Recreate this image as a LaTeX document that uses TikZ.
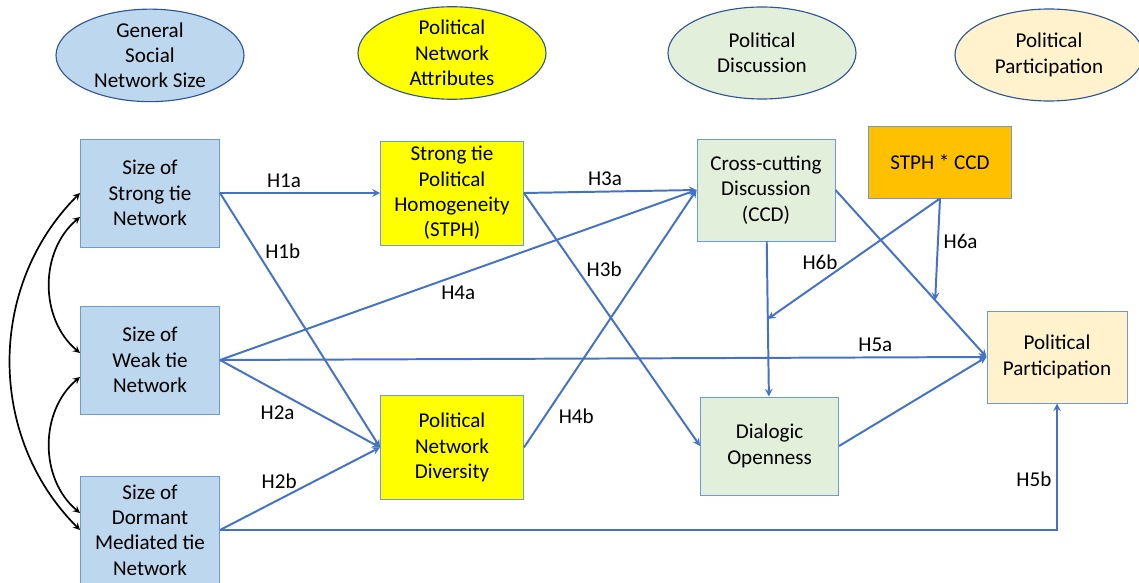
\documentclass[tikz,border=0pt]{standalone}
\usepackage{fontspec}
\setmainfont{Carlito}
\usetikzlibrary{shapes.geometric, arrows, calc}
\definecolor{cbblue}{HTML}{BDD7EE}
\definecolor{cbyellow}{HTML}{FFFF00}
\definecolor{cbgreen}{HTML}{E2EFDA}
\definecolor{cborange}{HTML}{FFC000}
\definecolor{cbcream}{HTML}{FFF2CC}
\definecolor{cbedge}{HTML}{6C9BD2}
\definecolor{cbring}{HTML}{2F5597}
\definecolor{cbline}{HTML}{4472C4}
\tikzstyle{groupell} = [ellipse, minimum width=4.7cm, minimum height=2.3cm, inner sep=0pt,
text centered, align=center, draw=cbring, line width=0.8pt]
\tikzstyle{sizebox} = [rectangle, minimum width=3.475cm, minimum height=2.7cm,
text centered, align=center, draw=cbedge, line width=0.7pt, fill=cbblue]
\tikzstyle{attrbox} = [rectangle, minimum width=3.575cm, minimum height=2.6cm,
text centered, align=center, draw=cbedge, line width=0.7pt, fill=cbyellow]
\tikzstyle{discbox} = [rectangle, minimum width=3.45cm, minimum height=2.55cm,
text centered, align=center, draw=cbedge, line width=0.7pt, fill=cbgreen]
\tikzstyle{modbox} = [rectangle, minimum width=3.575cm, minimum height=1.8cm,
text centered, align=center, draw=cbedge, line width=0.7pt, fill=cborange]
\tikzstyle{partbox} = [rectangle, minimum width=3.5cm, minimum height=2.3cm,
text centered, align=center, draw=cbedge, line width=0.7pt, fill=cbcream]
\tikzstyle{arrow} = [line width=1.4pt, ->, >=stealth, draw=cbline]
\tikzstyle{covary} = [line width=1.2pt, <->, >=stealth, black]

\begin{document}
\begin{tikzpicture}[node distance = 2cm, font=\fontsize{15}{18}\selectfont]
\useasboundingbox (-3.75,4.825) rectangle (24.725,-9.75);

% ------------------------- nodes -------------------------
% ----- column: network size
\node(strong)[sizebox]{Size of\\Strong tie\\Network};
\node(weak)[sizebox, below of=strong, yshift=-2.175cm]{Size of\\Weak tie\\Network};
\node(dormant)[sizebox, below of=weak, yshift=-2.25cm]{Size of\\Dormant\\Mediated tie\\Network};
\node(gen)[groupell, fill=cbblue, above of=strong, yshift=1.44cm]{General\\Social\\Network Size};
% ----- column: network attributes
\node(stph)[attrbox, right of=strong, xshift=5.55cm]{Strong tie\\Political\\Homogeneity\\(STPH)};
\node(div)[attrbox, below of=stph, yshift=-4.36cm]{Political\\Network\\Diversity};
\node(attr)[groupell, fill=cbyellow, above of=stph, yshift=1.5cm]{Political\\Network\\Attributes};
% ----- column: discussion
\node(ccd)[discbox, right of=stph, xshift=5.85cm, yshift=0.075cm]{Cross-cutting\\Discussion\\(CCD)};
\node(dial)[discbox, below of=ccd, yshift=-4.4cm, xshift=0.09cm, minimum height=2.45cm]{Dialogic\\Openness};
\node(disc)[groupell, fill=cbgreen, above of=ccd, yshift=1.425cm, xshift=-0.1cm]{Political\\Discussion};
\node(stphccd)[modbox, right of=ccd, xshift=2.35cm, yshift=0.7cm]{STPH * CCD};
% ----- column: participation
\node(part)[partbox, right of=ccd, xshift=5.275cm, yshift=-4.175cm]{Political\\Participation};
\node(partic)[groupell, fill=cbcream, above of=part, yshift=5.55cm, xshift=-0.2cm]{Political\\Participation};

% ------------------------- connections -------------------------
\draw[arrow](strong)--node[pos=0.4, above]{H1a}(stph);
\draw[arrow](strong.east)--node[pos=0.23, right=2pt]{H1b}(div.west);
\draw[arrow](weak.east)--node[pos=0.5, below=4pt]{H4a}(ccd.west);
\draw[arrow](weak.east)--node[pos=0.855, above]{H5a}(part.west);
\draw[arrow](weak.east)--node[pos=0.36, below=6pt]{H2a}(div.west);
\draw[arrow](dormant.east)--node[pos=0.37, above=4pt]{H2b}(div.west);
\draw[arrow](dormant.east)-|node[pos=0.7, left]{H5b}(part.south);
\draw[arrow](stph.east)--node[pos=0.47, above]{H3a}(ccd.west);
\draw[arrow](stph.east)--node[pos=0.3, right=3pt]{H3b}(dial.west);
\draw[arrow](div.east)--node[pos=0.12, right=6pt]{H4b}(ccd.west);
\draw[arrow](ccd)--(dial);
\draw[arrow](ccd.east)--(part.west);
\draw[arrow](dial.east)--(part.west);
% moderation: arrows end on other paths
\coordinate (mod6b) at ($(ccd.south)!0.5!(dial.north)$);
\coordinate (mod6a) at ($(ccd.east)!0.66!(part.west)$);
\draw[arrow](stphccd.south)--node[pos=0.53, left=4pt]{H6b}(mod6b);
\draw[arrow](stphccd.south)--node[pos=0.42, right]{H6a}(mod6a);
% covariances between network sizes
\draw[covary](strong.west) to[bend right=45] (dormant.west);
\draw[covary]([yshift=-0.6cm]strong.west) to[bend right=50] ([yshift=0.175cm]weak.west);
\draw[covary]([yshift=-0.425cm]weak.west) to[bend right=50] ([yshift=0.425cm]dormant.west);
\end{tikzpicture}
\end{document}
